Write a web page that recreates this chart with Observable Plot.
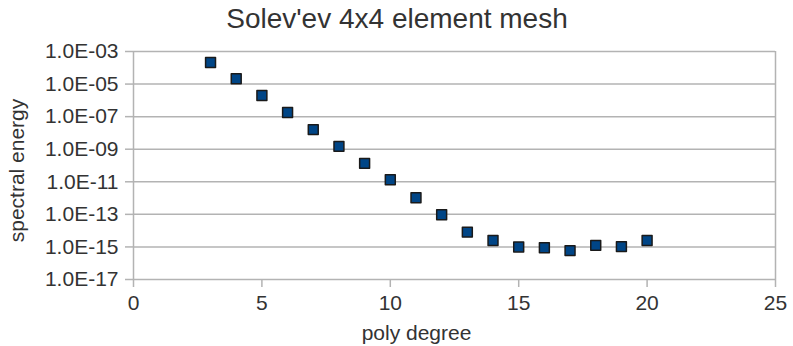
<!DOCTYPE html>
<html>
<head>
<meta charset="utf-8">
<script src="https://cdn.jsdelivr.net/npm/d3@7"></script>
<script src="https://cdn.jsdelivr.net/npm/@observablehq/plot@0.6"></script>
<style>
  html, body { margin: 0; padding: 0; background: #fff; }
  #chart svg { display: block; }
</style>
</head>
<body>
<div id="chart"></div>
<script>
const title = "Solev'ev 4x4 element mesh";
const xLabel = "poly degree";
const yLabel = "spectral energy";

const polyDegree = [3, 4, 5, 6, 7, 8, 9, 10, 11, 12, 13, 14, 15, 16, 17, 18, 19, 20];
const spectralEnergy = [2.1e-4, 2.1e-5, 2.0e-6, 1.8e-7, 1.6e-8, 1.5e-9, 1.35e-10, 1.35e-11,
  1.05e-12, 9.5e-14, 8.1e-15, 2.5e-15, 1.0e-15, 9.0e-16, 5.9e-16, 1.25e-15, 1.04e-15, 2.5e-15];

const xTicks = [0, 5, 10, 15, 20, 25];
const yTicks = [1e-3, 1e-5, 1e-7, 1e-9, 1e-11, 1e-13, 1e-15, 1e-17];

const data = polyDegree.map((d, i) => ({degree: d, energy: spectralEnergy[i]}));

const fmtE = d => {
  const e = Math.round(Math.log10(d));
  return "1.0E" + (e < 0 ? "-" : "+") + String(Math.abs(e)).padStart(2, "0");
};

const grid = "#b3b3b3";
const ink = "#333333";

const chart = Plot.plot({
  width: 793,
  height: 346,
  marginTop: 51,
  marginBottom: 67,
  marginLeft: 133,
  marginRight: 18,
  style: {fontFamily: "'Liberation Sans', Arial, sans-serif", background: "#fff", color: ink},
  x: {domain: [0, 25]},
  y: {type: "log", domain: [1e-17, 1e-3]},
  marks: [
    Plot.ruleY(yTicks, {stroke: grid, strokeWidth: 1.5}),
    Plot.ruleX([0, 25], {stroke: grid, strokeWidth: 1.5}),
    Plot.axisX({ticks: xTicks, tickSize: 8, tickPadding: 8, stroke: grid, strokeWidth: 1.5,
      fill: ink, fontSize: 21, label: null}),
    Plot.axisY({ticks: yTicks, tickFormat: fmtE, tickSize: 8, tickPadding: 7, stroke: grid,
      strokeWidth: 1.5, fill: ink, fontSize: 21, label: null}),
    Plot.dot(data, {x: "degree", y: "energy", symbol: "square", r: 5.6,
      fill: "#004586", stroke: "#1a1a1a", strokeWidth: 1.5, strokeLinejoin: "round"}),
    Plot.text([title], {text: d => d, frameAnchor: "top", textAnchor: "middle", dx: -57.5, dy: -24,
      lineAnchor: "bottom", fontSize: 28, fill: ink}),
    Plot.text([xLabel], {text: d => d, frameAnchor: "bottom", textAnchor: "middle", dx: -38, dy: 60,
      lineAnchor: "bottom", fontSize: 21, fill: ink}),
    Plot.text([yLabel], {text: d => d, frameAnchor: "left", textAnchor: "middle", rotate: -90,
      dx: -109.5, dy: 5, lineAnchor: "bottom", fontSize: 21, fill: ink})
  ]
});
document.getElementById("chart").appendChild(chart);
</script>
</body>
</html>
